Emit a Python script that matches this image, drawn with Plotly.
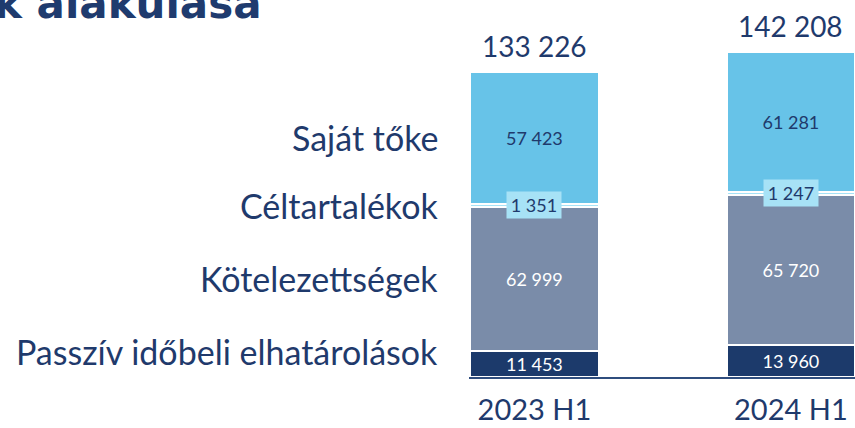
import plotly.graph_objects as go

# ---- data ----
periods = ["2023 H1", "2024 H1"]
series_names = ["Passzív időbeli elhatárolások", "Kötelezettségek", "Céltartalékok", "Saját tőke"]
passziv = [11453, 13960]
kotelezettsegek = [62999, 65720]
celtartalekok = [1351, 1247]
sajat_toke = [57423, 61281]
title_text = "k alakulása"

series_values = [passziv, kotelezettsegek, celtartalekok, sajat_toke]
totals = [sum(v) for v in zip(*series_values)]

def fmt(v):
    return f"{v:,}".replace(",", " ")

# ---- styles ----
NAVY_TXT = "#1F3A6C"
colors = ["#1C3A6B", "#7A8CA9", "#A7E2F6", "#67C3E8"]
text_colors = ["#FFFFFF", "#FFFFFF", NAVY_TXT, NAVY_TXT]
FONT = "Lato"
BAR_W = 0.502

fig = go.Figure()
for name, vals, col, tcol in zip(series_names, series_values, colors, text_colors):
    show_inside = name != "Céltartalékok"
    fig.add_trace(go.Bar(
        x=periods, y=vals, name=name,
        marker=dict(color=col, line=dict(color="white", width=2)),
        width=BAR_W,
        text=[fmt(v) for v in vals] if show_inside else None,
        textposition="inside" if show_inside else "none",
        insidetextanchor="middle",
        constraintext="none",
        textangle=0,
        textfont=dict(family=FONT, size=18, color=tcol),
        hoverinfo="skip",
    ))

annotations = []
# totals above bars
for p, t in zip(periods, totals):
    annotations.append(dict(x=p, y=t, xref="x", yref="y", text=fmt(t), showarrow=False,
                            yanchor="bottom", yshift=7,
                            font=dict(family=FONT, size=28, color=NAVY_TXT)))
# small Céltartalékok labels in boxes
for i, p in enumerate(periods):
    mid = passziv[i] + kotelezettsegek[i] + celtartalekok[i] / 2
    annotations.append(dict(x=p, y=mid, xref="x", yref="y", text=fmt(celtartalekok[i]),
                            showarrow=False, bgcolor="#A7E2F6", borderpad=1,
                            width=52, height=24,
                            font=dict(family=FONT, size=18, color=NAVY_TXT)))

# category labels to the left of the first bar
cum = 0
mids = []
for vals in series_values:
    mids.append(cum + vals[0] / 2)
    cum += vals[0]
for k, (name, mid) in enumerate(zip(series_names, mids)):
    yshift = 12 if k == 0 else 0
    annotations.append(dict(x=-BAR_W / 2, y=mid, xref="x", yref="y", text=name, showarrow=False,
                            xanchor="right", xshift=-30, yshift=yshift,
                            font=dict(family=FONT, size=34, color=NAVY_TXT)))

# title (cut off at top)
annotations.append(dict(x=-0.531, y=0.946, xref="paper", yref="paper", text="<b>" + title_text + "</b>",
                        showarrow=False, xanchor="right", yanchor="bottom",
                        font=dict(family="DejaVu Sans", size=42, color="#1F3B6E")))

shapes = [dict(type="line", xref="x", yref="y", xsizemode="pixel", ysizemode="pixel",
               xanchor=-BAR_W / 2, yanchor=mids[0], x0=-26, x1=-9, y0=14, y1=-1,
               line=dict(color=NAVY_TXT, width=1.2))]

fig.update_layout(
    barmode="stack",
    width=855, height=428,
    margin=dict(l=469, r=0, t=10, b=51, autoexpand=False),
    paper_bgcolor="white", plot_bgcolor="white",
    showlegend=False,
    annotations=annotations,
    shapes=shapes,
    xaxis=dict(range=[-0.255, 1.25], showgrid=False, zeroline=False, automargin=False,
               showline=True, linecolor="#2F4D7E", linewidth=2,
               tickfont=dict(family=FONT, size=29, color=NAVY_TXT),
               ticks="", ticklabelstandoff=6),
    yaxis=dict(range=[0, 160450], visible=False, automargin=False),
    uniformtext=dict(mode=False),
)

fig.write_html("out.html", config={"displayModeBar": False},
               post_script="document.body.style.margin='0';document.body.style.overflow='hidden';")
